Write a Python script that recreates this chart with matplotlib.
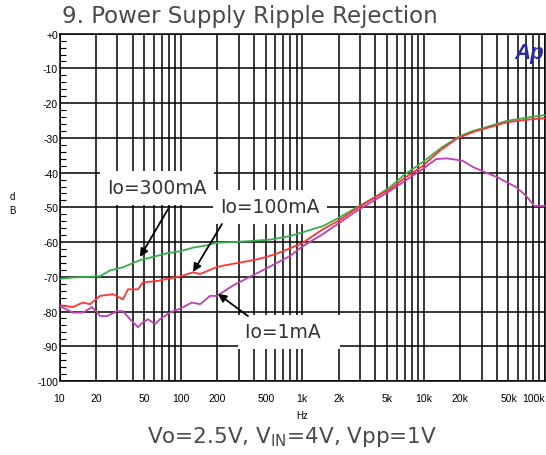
import matplotlib.pyplot as plt
from matplotlib.ticker import FixedLocator, LogLocator, MultipleLocator, NullFormatter

plt.rcParams['font.family'] = ['Liberation Sans', 'DejaVu Sans']

# Io=300mA (green)
f_300 = [10, 13, 17.8, 21.6, 26, 33, 46, 60, 77, 100, 126, 160, 198, 270, 371, 542,
         792, 1000, 1480, 2000, 2820, 4000, 5270, 7000, 9800, 14300, 19900, 25500,
         30000, 48500, 70000, 100000]
db_300 = [-70.6, -70.2, -70, -69.8, -68.2, -67.3, -65.2, -64.2, -63.2, -62.6, -61.6, -61,
          -60.2, -60, -59.7, -59.3, -58.3, -57.2, -55.4, -53, -50, -47, -44.2, -40.5,
          -37, -32.6, -29.5, -28, -27.3, -25.1, -24.2, -23.4]

# Io=100mA (red)
f_100 = [10, 12.9, 15.6, 17.8, 21.6, 27.6, 33.3, 36.7, 44.3, 48.7, 63.5, 76.8, 98.3,
         126, 144, 198, 222, 424, 600, 792, 1000, 1480, 2000, 2820, 4000, 5270, 7000,
         9800, 13600, 18600, 25500, 48500, 70000, 100000]
db_100 = [-78.2, -78.7, -77.4, -77.9, -75.5, -75, -76.5, -73.6, -73.6, -71.6, -71.2,
          -70.6, -69.9, -68.7, -69.2, -67.2, -66.8, -65, -63.5, -61.8, -60.3, -56.3,
          -53.8, -50.3, -47, -44.8, -41.5, -38.1, -33.7, -30.3, -28.3, -25.5, -24.8, -24.3]

# Io=1mA (magenta)
f_1 = [10, 12.9, 15.6, 18.5, 21.6, 24.6, 29.8, 33.3, 38.1, 44.3, 48.7, 53.6, 61.2, 67.3,
       81.3, 104, 123, 144, 174, 198, 269, 512, 792, 1000, 1480, 2820, 5270, 9800,
       12700, 15500, 18600, 21000, 25500, 40200, 58000, 69900, 81800, 100000]
db_1 = [-78.4, -80.3, -80.3, -78.7, -81.3, -81.3, -79.9, -79.9, -82.2, -84.5, -83.1,
        -82.2, -83.6, -82.2, -80.3, -78.8, -77.4, -77.9, -75.5, -75.5, -72.5, -67.5,
        -64, -61.3, -57.7, -51, -45.3, -39, -36.1, -35.9, -36.3, -36.6, -38.4, -41.3,
        -44.2, -46.7, -49.6, -49.6]

x_ticks = [10, 20, 50, 100, 200, 500, 1000, 2000, 5000, 10000, 20000, 50000, 100000]
x_labels = ['10', '20', '50', '100', '200', '500', '1k', '2k', '5k', '10k', '20k', '50k', '100k']
y_ticks = [0, -10, -20, -30, -40, -50, -60, -70, -80, -90, -100]
y_labels = ['+0', '-10', '-20', '-30', '-40', '-50', '-60', '-70', '-80', '-90', '-100']

fig = plt.figure(figsize=(5.46, 4.56), dpi=100)
ax = fig.add_axes([59.5 / 546, 1 - 382 / 456, (545 - 59.5) / 546, (382 - 34.7) / 456])

ax.plot(f_300, db_300, color='#36b04a', lw=1.3, zorder=4)
ax.plot(f_100, db_100, color='#ff3333', lw=1.3, zorder=4)
ax.plot(f_1, db_1, color='#c040b0', lw=1.3, zorder=4)

ax.set_xscale('log')
ax.set_xlim(10, 100000)
ax.set_ylim(-100, 0)

ax.xaxis.set_major_locator(FixedLocator(x_ticks))
xl = ax.set_xticklabels(x_labels)
xl[-1].set_horizontalalignment('right')
ax.xaxis.set_minor_locator(LogLocator(base=10, subs=range(1, 10)))
ax.xaxis.set_minor_formatter(NullFormatter())
ax.set_yticks(y_ticks)
ax.set_yticklabels(y_labels)
ax.yaxis.set_minor_locator(MultipleLocator(2))

ax.tick_params(axis='x', which='both', length=0, pad=9, labelsize=7.5)
ax.tick_params(axis='y', which='major', length=0, pad=1, labelsize=7.5)
ax.tick_params(axis='y', which='minor', direction='in', length=4, width=0.8)

ax.grid(True, axis='x', which='both', color='black', lw=1.1)
ax.grid(True, axis='y', which='major', color='black', lw=1.1)
for s in ax.spines.values():
    s.set_linewidth(1.1)

box = dict(boxstyle='square,pad=0.4', fc='white', ec='none')
lab = dict(fontsize=13.5, color='#333333', ha='center', va='center', bbox=box, family='DejaVu Sans')
ax.text(63.5, -44.3, 'Io=300mA', **lab)
ax.text(542, -49.8, 'Io=100mA', **lab)
ax.text(777, -85.8, 'Io=1mA  ', **lab)

arrow = dict(arrowstyle='-|>', color='black', lw=1.3, mutation_scale=12, shrinkA=0, shrinkB=0)
ax.annotate('', xy=(46, -64.3), xytext=(78.4, -50.5), arrowprops=arrow, zorder=5)
ax.annotate('', xy=(126, -68.6), xytext=(218, -54.8), arrowprops=arrow, zorder=5)
ax.annotate('', xy=(202, -74.9), xytext=(357, -81.3), arrowprops=arrow, zorder=5)

fig.text(62 / 546, 1 - 17 / 456, '9. Power Supply Ripple Rejection', fontsize=16.5,
         color='#4a4a4a', ha='left', va='center', family='DejaVu Sans')
fig.text(529 / 546, 1 - 53 / 456, 'Ap', fontsize=16, color='#2b2ba8', fontweight='bold',
         style='italic', ha='center', va='center')
fig.text(12 / 546, 1 - 204 / 456, 'd\nB', fontsize=7, ha='center', va='center', linespacing=1.6)
fig.text(302 / 546, 1 - 416 / 456, 'Hz', fontsize=7, ha='center', va='center')
fig.text(292 / 546, 1 - 437 / 456, r'Vo=2.5V, V$_\mathregular{IN}$=4V, Vpp=1V', fontsize=15.5,
         color='#4a4a4a', ha='center', va='center', family='DejaVu Sans')

fig.savefig('out.png', dpi=100)
